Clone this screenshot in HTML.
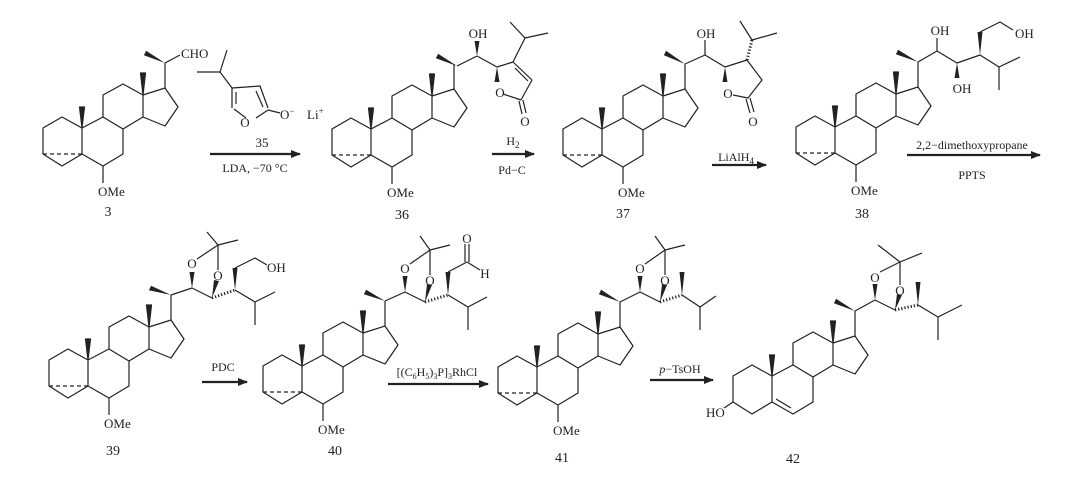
<!DOCTYPE html>
<html><head><meta charset="utf-8"><style>
html,body{margin:0;padding:0;background:#fff;}
svg{display:block;}
text{font-family:"Liberation Serif",serif;fill:#222;}
</style></head><body>
<svg width="1080" height="478" viewBox="0 0 1080 478" xmlns="http://www.w3.org/2000/svg">
<defs>
<g id="core" fill="none" stroke="#222" stroke-width="1.2" stroke-linejoin="round">
<polyline points="0,0 0,-26 -20,-37 -39,-26 -39,0 -20,12 0,0"/>
<polyline points="0,-26 21,-37 41,-25 41,0 21,12 0,0"/>
<polyline points="21,-37 21,-59 41,-70 61,-59 61,-37 41,-25"/>
<polyline points="61,-59 83,-66 96,-47 83,-28 61,-37"/>
<line x1="83" y1="-66" x2="83" y2="-91"/>
<polygon points="0,-26 -2.5,-47 2.5,-47" fill="#222"/>
<polygon points="61,-59 58.5,-81 63.5,-81" fill="#222"/>
</g>
<g id="dome" fill="none" stroke="#222" stroke-width="1.2">
<line x1="-39" y1="0" x2="0" y2="0" stroke-dasharray="4,3"/>
<line x1="21" y1="12" x2="21" y2="29"/>
</g>
<marker id="ah" markerWidth="10" markerHeight="8" refX="9" refY="4" orient="auto" markerUnits="userSpaceOnUse">
<polygon points="0,0 10,4 0,8" fill="#222"/>
</marker>
</defs>

<!-- steroid cores -->
<use href="#core" x="82" y="154"/><use href="#dome" x="82" y="154"/>
<use href="#core" x="371" y="155"/><use href="#dome" x="371" y="155"/>
<use href="#core" x="602" y="155"/><use href="#dome" x="602" y="155"/>
<use href="#core" x="835" y="153"/><use href="#dome" x="835" y="153"/>
<use href="#core" x="88" y="386"/><use href="#dome" x="88" y="386"/>
<use href="#core" x="302" y="392"/><use href="#dome" x="302" y="392"/>
<use href="#core" x="537" y="393"/><use href="#dome" x="537" y="393"/>
<use href="#core" x="772" y="402"/>

<g fill="none" stroke="#222" stroke-width="1.2" stroke-linejoin="round">
<!-- 42 extras -->
<line x1="776" y1="399" x2="791" y2="408"/>
<line x1="733" y1="402" x2="724" y2="408"/>

<!-- 3 side chain -->
<line x1="165" y1="63" x2="180" y2="55"/>
<!-- 35 -->
<polyline points="197,72 220,72 227,50"/>
<line x1="220" y1="72" x2="232" y2="88"/>
<polyline points="232,88 260,86 268,108"/>
<line x1="246" y1="118" x2="234" y2="109"/>
<line x1="232" y1="108" x2="232" y2="88"/>
<line x1="236" y1="104" x2="236" y2="92"/>
<line x1="256" y1="91" x2="263" y2="107"/>
<line x1="256" y1="118" x2="268" y2="110"/>
<line x1="268" y1="110" x2="280" y2="113"/>

<!-- 36 -->
<line x1="457" y1="66" x2="477" y2="56"/>
<line x1="477" y1="56" x2="497" y2="67"/>
<line x1="497" y1="67" x2="513" y2="62"/>
<line x1="513" y1="62" x2="532" y2="80"/>
<line x1="515" y1="68" x2="528" y2="81"/>
<line x1="532" y1="80" x2="521" y2="100"/>
<line x1="521" y1="100" x2="503" y2="94"/>
<line x1="519" y1="101" x2="522" y2="114"/>
<line x1="523" y1="100" x2="526" y2="113"/>
<polyline points="513,62 525,38 510,22"/>
<line x1="525" y1="38" x2="548" y2="33"/>

<!-- 37 -->
<line x1="685" y1="64" x2="705" y2="55"/>
<line x1="705" y1="55" x2="705" y2="40"/>
<line x1="705" y1="55" x2="725" y2="67"/>
<polyline points="725,67 747,60 762,80 748,98 733,95"/>
<line x1="746" y1="99" x2="750" y2="113"/>
<line x1="750" y1="98" x2="754" y2="112"/>
<line x1="747" y1="60" x2="752" y2="40" stroke-width="3" stroke-dasharray="1.2,2"/>
<polyline points="740,21 752,40 777,33"/>

<!-- 38 -->
<polyline points="918,62 937,51 957,63 980,55 999,67 1020,57"/>
<line x1="937" y1="51" x2="937" y2="38"/>
<line x1="999" y1="67" x2="999" y2="90"/>
<polyline points="980,32 1000,22 1013,30"/>

<!-- 39 -->
<polyline points="171,295 192,288 212,298"/>
<line x1="212" y1="298" x2="235" y2="290" stroke-width="3" stroke-dasharray="1.2,2"/>
<line x1="235" y1="290" x2="255" y2="302"/>
<line x1="255" y1="302" x2="275" y2="292"/>
<line x1="255" y1="302" x2="255" y2="325"/>
<polyline points="235,268 255,258 267,265"/>
<polyline points="197,259 218,245 218,270"/>
<line x1="218" y1="245" x2="207" y2="232"/>
<line x1="218" y1="245" x2="238" y2="240"/>

<!-- 40 -->
<polyline points="385,301 405,292 425,302"/>
<line x1="425" y1="302" x2="448" y2="295" stroke-width="3" stroke-dasharray="1.2,2"/>
<polyline points="448,295 468,307 487,297"/>
<line x1="468" y1="307" x2="468" y2="330"/>
<line x1="448" y1="272" x2="467" y2="262"/>
<line x1="467" y1="262" x2="480" y2="270"/>
<line x1="465" y1="262" x2="465" y2="244"/>
<line x1="469" y1="262" x2="469" y2="244"/>
<polyline points="410,264 430,250 430,275"/>
<line x1="430" y1="250" x2="420" y2="236"/>
<line x1="430" y1="250" x2="450" y2="245"/>

<!-- 41 -->
<polyline points="620,302 640,292 660,302"/>
<line x1="660" y1="302" x2="682" y2="295" stroke-width="3" stroke-dasharray="1.2,2"/>
<polyline points="682,295 700,307 716,296"/>
<line x1="700" y1="307" x2="700" y2="330"/>
<polyline points="645,264 665,250 665,275"/>
<line x1="665" y1="250" x2="655" y2="236"/>
<line x1="665" y1="250" x2="685" y2="245"/>

<!-- 42 -->
<polyline points="855,311 875,300 895,310"/>
<line x1="895" y1="310" x2="918" y2="305" stroke-width="3" stroke-dasharray="1.2,2"/>
<polyline points="918,305 938,317 962,305"/>
<line x1="938" y1="317" x2="938" y2="340"/>
<polyline points="880,272 900,262 900,285"/>
<line x1="900" y1="262" x2="878" y2="245"/>
<line x1="900" y1="262" x2="922" y2="253"/>

<!-- arrows -->
<line x1="210" y1="154" x2="300" y2="154" stroke-width="2.2" marker-end="url(#ah)"/>
<line x1="492" y1="154" x2="534" y2="154" stroke-width="2.2" marker-end="url(#ah)"/>
<line x1="712" y1="165" x2="766" y2="165" stroke-width="2.2" marker-end="url(#ah)"/>
<line x1="907" y1="155" x2="1040" y2="155" stroke-width="2.2" marker-end="url(#ah)"/>
<line x1="202" y1="382" x2="247" y2="382" stroke-width="2.2" marker-end="url(#ah)"/>
<line x1="388" y1="384" x2="488" y2="384" stroke-width="2.2" marker-end="url(#ah)"/>
<line x1="650" y1="380" x2="713" y2="380" stroke-width="2.2" marker-end="url(#ah)"/>
</g>

<!-- wedges -->
<g fill="#222">
<polygon points="165,63 146.1,50.8 143.9,55.2"/>
<polygon points="457,66 438.1,53.8 435.9,58.2"/>
<polygon points="477,56 474.5,41 479.5,41"/>
<polygon points="497,67 494.5,82 499.5,82"/>
<polygon points="685,64 666.1,50.8 663.9,55.2"/>
<polygon points="725,67 722.5,82 727.5,82"/>
<polygon points="918,62 898.1,49.8 895.9,54.2"/>
<polygon points="957,63 954.5,78 959.5,78"/>
<polygon points="980,55 977.5,32 982.5,32"/>
<polygon points="171,295 151.1,285.8 148.9,290.2"/>
<polygon points="192,288 189.5,272 194.5,272"/>
<polygon points="212,298 214,280 219,281"/>
<polygon points="235,290 232.5,268 237.5,268"/>
<polygon points="385,301 366.1,289.8 363.9,294.2"/>
<polygon points="405,292 402.5,276 407.5,276"/>
<polygon points="425,302 427,284 432,285"/>
<polygon points="448,295 445.5,272 450.5,272"/>
<polygon points="620,302 601.1,289.8 598.9,294.2"/>
<polygon points="640,292 637.5,276 642.5,276"/>
<polygon points="660,302 662,284 667,285"/>
<polygon points="682,295 679.5,272 684.5,272"/>
<polygon points="855,311 836.1,298.8 833.9,303.2"/>
<polygon points="875,300 872.5,284 877.5,284"/>
<polygon points="895,310 897,294 902,295"/>
<polygon points="918,305 915.5,282 920.5,282"/>
</g>

<!-- text -->
<g font-size="13">
<text x="181" y="58">CHO</text>
<text x="245" y="127" text-anchor="middle">O</text>
<text x="280" y="119">O<tspan font-size="9" dy="-5">−</tspan></text>
<text x="307" y="119">Li<tspan font-size="9" dy="-5">+</tspan></text>
<text x="262" y="147" text-anchor="middle">35</text>
<text x="255" y="172" text-anchor="middle" font-size="12">LDA, −70 °C</text>

<text x="478" y="38" text-anchor="middle">OH</text>
<text x="500" y="97" text-anchor="middle">O</text>
<text x="525" y="126" text-anchor="middle">O</text>
<text x="513" y="145" text-anchor="middle" font-size="12">H<tspan font-size="9" dy="3">2</tspan></text>
<text x="512" y="174" text-anchor="middle" font-size="12">Pd−C</text>

<text x="706" y="38" text-anchor="middle">OH</text>
<text x="728" y="98" text-anchor="middle">O</text>
<text x="753" y="126" text-anchor="middle">O</text>
<text x="736" y="161" text-anchor="middle" font-size="12">LiAlH<tspan font-size="9" dy="3">4</tspan></text>

<text x="940" y="35" text-anchor="middle">OH</text>
<text x="962" y="93" text-anchor="middle">OH</text>
<text x="1015" y="38">OH</text>
<text x="972" y="149" text-anchor="middle" font-size="12">2,2−dimethoxypropane</text>
<text x="972" y="179" text-anchor="middle" font-size="12">PPTS</text>

<text x="98" y="196">OMe</text>
<text x="387" y="197">OMe</text>
<text x="618" y="197">OMe</text>
<text x="851" y="195">OMe</text>
<text x="104" y="428">OMe</text>
<text x="318" y="434">OMe</text>
<text x="553" y="435">OMe</text>

<text x="108" y="216" text-anchor="middle" font-size="14">3</text>
<text x="402" y="219" text-anchor="middle" font-size="14">36</text>
<text x="623" y="218" text-anchor="middle" font-size="14">37</text>
<text x="862" y="218" text-anchor="middle" font-size="14">38</text>
<text x="113" y="455" text-anchor="middle" font-size="14">39</text>
<text x="335" y="455" text-anchor="middle" font-size="14">40</text>
<text x="562" y="462" text-anchor="middle" font-size="14">41</text>
<text x="793" y="463" text-anchor="middle" font-size="14">42</text>

<text x="192" y="268" text-anchor="middle">O</text>
<text x="218" y="280" text-anchor="middle">O</text>
<text x="267" y="272">OH</text>
<text x="223" y="371" text-anchor="middle" font-size="12">PDC</text>

<text x="405" y="273" text-anchor="middle">O</text>
<text x="430" y="285" text-anchor="middle">O</text>
<text x="467" y="243" text-anchor="middle">O</text>
<text x="485" y="278" text-anchor="middle">H</text>
<text x="437" y="376" text-anchor="middle" font-size="12">[(C<tspan font-size="8" dy="3">6</tspan><tspan dy="-3">H</tspan><tspan font-size="8" dy="3">5</tspan><tspan dy="-3">)</tspan><tspan font-size="8" dy="3">3</tspan><tspan dy="-3">P]</tspan><tspan font-size="8" dy="3">3</tspan><tspan dy="-3">RhCl</tspan></text>

<text x="640" y="273" text-anchor="middle">O</text>
<text x="665" y="285" text-anchor="middle">O</text>
<text x="680" y="373" text-anchor="middle" font-size="12"><tspan font-style="italic">p</tspan>−TsOH</text>

<text x="875" y="282" text-anchor="middle">O</text>
<text x="900" y="295" text-anchor="middle">O</text>
<text x="706" y="417">HO</text>
</g>
</svg>
</body></html>
